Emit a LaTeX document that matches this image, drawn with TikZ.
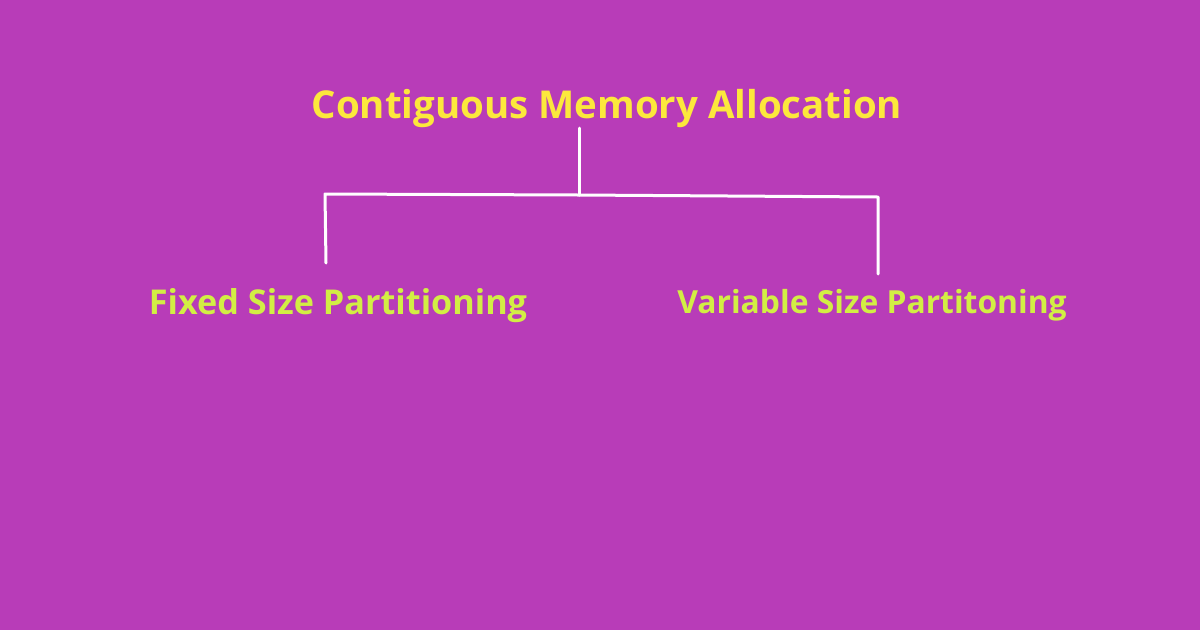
\documentclass[tikz,border=0pt]{standalone}
\usepackage{fontspec}
\setmainfont{Open Sans}
\usepackage{tikz}
\usetikzlibrary{calc,positioning}
\definecolor{bgpurple}{HTML}{B83CB8}
\definecolor{titleyellow}{HTML}{FCE83C}
\definecolor{limegreen}{HTML}{D2EE44}
\tikzset{
    heading/.style={
    text=titleyellow,font=\bfseries\fontsize{38.4}{42}\selectfont,inner sep=0pt
    },
    branch/.style={
    text=limegreen,font=\bfseries\fontsize{34.2}{38}\selectfont,inner sep=0pt
    },
    wire/.style={
    draw=white,line width=3pt,line cap=round,line join=round
    },
}

\begin{document}
\begin{tikzpicture}[x=1pt,y=-1pt]
   \fill[bgpurple] (0,0) rectangle (1200,630);
   \useasboundingbox (0,0) rectangle (1200,630);
   \node[heading] (cma) at (607,109) {Contiguous Memory Allocation};
   \node[branch] (fsp) at (338,306) {Fixed Size Partitioning};
   \node[branch,font=\bfseries\fontsize{31.8}{36}\selectfont] (vsp) at (872,305) {Variable Size Partitoning};
   \coordinate (root) at (579,128);
   \coordinate (split) at (579,195);
   \coordinate (lcorner) at (325,194);
   \coordinate (rcorner) at (878,197);
   \coordinate (lend) at (326,263);
   \coordinate (rend) at (878,274);

  \draw[wire] (root) -- (split);
  \draw[wire] (lend) -- (lcorner) -- (split) -- (rcorner) -- (rend);
\end{tikzpicture}
\end{document}
